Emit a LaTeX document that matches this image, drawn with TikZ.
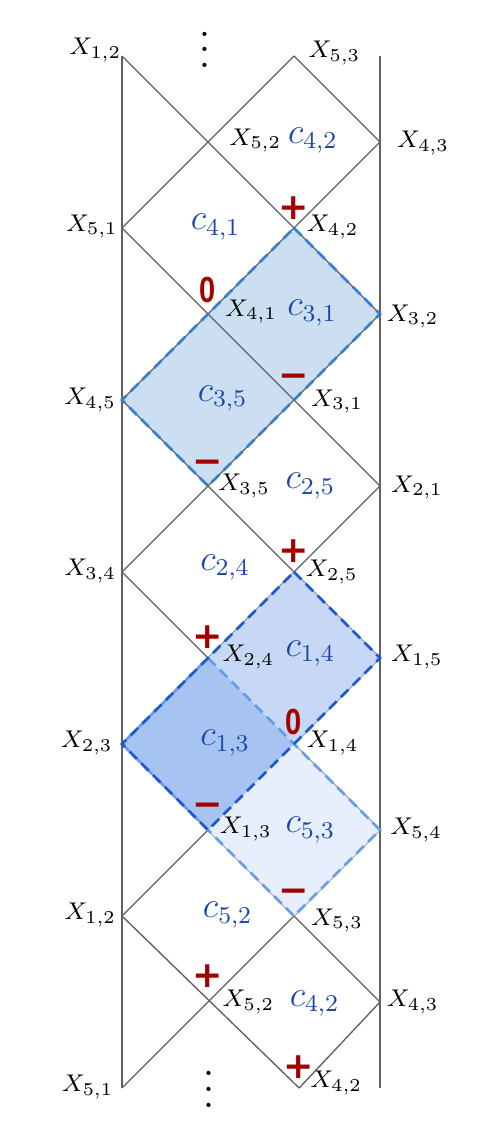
\documentclass[tikz,border=0pt]{standalone}
\usepackage{fontspec}
\usepackage{amsmath}
\usetikzlibrary{calc,positioning}
\newfontfamily\signfont{DejaVu Sans}
\newfontfamily\zerofont{Liberation Sans}
\definecolor{cblue}{RGB}{28,72,172}
\definecolor{sred}{RGB}{165,0,0}
\definecolor{paleA}{RGB}{204,223,242}
\definecolor{edgeA}{RGB}{55,125,205}
\definecolor{paleB}{RGB}{198,216,245}
\definecolor{edgeB}{RGB}{25,88,212}
\definecolor{paleC}{RGB}{231,239,252}
\definecolor{edgeC}{RGB}{100,155,234}
\definecolor{paleBC}{RGB}{166,195,242}

\begin{document}
\begin{tikzpicture}[lat/.style={draw=black!62, line width=0.45pt},
  border/.style={line width=0.9pt, dash pattern=on 3.5pt off 2pt},
  xl/.style={font=\footnotesize, inner sep=1pt},
  cl/.style={font=\large, text=cblue, inner sep=1pt},
  sgn/.style={font=\signfont\bfseries\fontsize{12}{12}\selectfont, text=sred, inner sep=0pt},
  zero/.style={font=\zerofont\bfseries\fontsize{12}{12}\selectfont, text=sred, inner sep=0pt, xscale=0.8}]
\useasboundingbox (-1.4186,0.6512) rectangle (4.372,-12.6744);

% lattice points
\foreach \i in {0,...,3}
  \foreach \r in {0,...,12}
    \coordinate (v-\i-\r) at (\i,-\r);
\coordinate (v-2-12) at (2.06,-12);

% upper shaded strip
\fill[paleA] (v-2-2) -- (v-3-3) -- (v-1-5) -- (v-0-4) -- cycle;

% lattice
\draw[lat] (v-0-0) -- (v-0-12);
\draw[lat] (v-3-0) -- (v-3-12);
\foreach \a/\b in {2-0/3-1, 0-0/3-3, 0-2/3-5, 0-4/3-7, 0-6/3-9, 0-8/3-11, 0-10/2-12,
                   2-0/0-2, 3-1/0-4, 3-3/0-6, 3-5/0-8, 3-7/0-10, 3-9/0-12, 3-11/2-12}
  \draw[lat] (v-\a) -- (v-\b);

% lower shaded strips
\fill[paleB] (v-2-6) -- (v-3-7) -- (v-1-9) -- (v-0-8) -- cycle;
\fill[paleC] (v-2-8) -- (v-3-9) -- (v-2-10) -- (v-1-9) -- cycle;
\fill[paleBC] (v-1-7) -- (v-2-8) -- (v-1-9) -- (v-0-8) -- cycle;

\draw[border, edgeA] (v-2-2) -- (v-3-3) -- (v-1-5) -- (v-0-4) -- cycle;
\draw[border, edgeC] (v-1-7) -- (v-3-9) -- (v-2-10) -- (v-0-8) -- cycle;
\draw[border, edgeB] (v-2-6) -- (v-3-7) -- (v-1-9) -- (v-0-8) -- cycle;

% vertex labels
\node[xl] (l-0-0) at (-0.31,0.07) {$X_{1,2}$};
\node[xl] (l-2-0) at (2.47,0.035) {$X_{5,3}$};
\node[xl] (l-1-1) at (1.55,-0.98) {$X_{5,2}$};
\node[xl] (l-3-1) at (3.5,-1.01) {$X_{4,3}$};
\node[xl] (l-0-2) at (-0.35,-1.98) {$X_{5,1}$};
\node[xl] (l-2-2) at (2.45,-1.99) {$X_{4,2}$};
\node[xl] (l-1-3) at (1.5,-2.97) {$X_{4,1}$};
\node[xl] (l-3-3) at (3.38,-3.03) {$X_{3,2}$};
\node[xl] (l-0-4) at (-0.37,-4.0) {$X_{4,5}$};
\node[xl] (l-2-4) at (2.5,-4.02) {$X_{3,1}$};
\node[xl] (l-1-5) at (1.42,-5.0) {$X_{3,5}$};
\node[xl] (l-3-5) at (3.43,-5.02) {$X_{2,1}$};
\node[xl] (l-0-6) at (-0.37,-5.99) {$X_{3,4}$};
\node[xl] (l-2-6) at (2.44,-6.0) {$X_{2,5}$};
\node[xl] (l-1-7) at (1.47,-6.99) {$X_{2,4}$};
\node[xl] (l-3-7) at (3.43,-6.99) {$X_{1,5}$};
\node[xl] (l-0-8) at (-0.41,-7.99) {$X_{2,3}$};
\node[xl] (l-2-8) at (2.45,-7.99) {$X_{1,4}$};
\node[xl] (l-1-9) at (1.44,-8.99) {$X_{1,3}$};
\node[xl] (l-3-9) at (3.42,-9.0) {$X_{5,4}$};
\node[xl] (l-0-10) at (-0.37,-9.99) {$X_{1,2}$};
\node[xl] (l-2-10) at (2.5,-10.05) {$X_{5,3}$};
\node[xl] (l-1-11) at (1.47,-11.0) {$X_{5,2}$};
\node[xl] (l-3-11) at (3.38,-11.0) {$X_{4,3}$};
\node[xl] (l-0-12) at (-0.4,-11.99) {$X_{5,1}$};
\node[xl] (l-2-12) at (2.49,-11.94) {$X_{4,2}$};

% cell labels
\node[cl] (c-2-1) at (2.22,-0.98) {$c_{4,2}$};
\node[cl] (c-1-2) at (1.09,-1.99) {$c_{4,1}$};
\node[cl] (c-2-3) at (2.21,-2.99) {$c_{3,1}$};
\node[cl] (c-1-4) at (1.17,-3.98) {$c_{3,5}$};
\node[cl] (c-2-5) at (2.19,-5.0) {$c_{2,5}$};
\node[cl] (c-1-6) at (1.2,-5.95) {$c_{2,4}$};
\node[cl] (c-2-7) at (2.19,-6.95) {$c_{1,4}$};
\node[cl] (c-1-8) at (1.2,-7.99) {$c_{1,3}$};
\node[cl] (c-2-9) at (2.19,-9.0) {$c_{5,3}$};
\node[cl] (c-1-10) at (1.23,-9.99) {$c_{5,2}$};
\node[cl] (c-2-11) at (2.24,-11.02) {$c_{4,2}$};

% signs
\node[sgn] (s-2-2) at (2.0,-1.77) {+};
\node[zero] (s-1-3) at (1.0,-2.72) {0};
\node[sgn] (s-2-4) at (2.0,-3.78) {−};
\node[sgn] (s-1-5) at (1.0,-4.78) {−};
\node[sgn] (s-2-6) at (2.0,-5.76) {+};
\node[sgn] (s-1-7) at (1.0,-6.76) {+};
\node[zero] (s-2-8) at (2.0,-7.74) {0};
\node[sgn] (s-1-9) at (1.0,-8.76) {−};
\node[sgn] (s-2-10) at (2.0,-9.76) {−};
\node[sgn] (s-1-11) at (1.0,-10.7) {+};
\node[sgn] (s-2-12) at (2.06,-11.76) {+};

% continuation dots
\node[scale=1.3] (d-top) at (0.97,0.21) {$\vdots$};
\node[scale=1.3] (d-bot) at (1.01,-11.88) {$\vdots$};
\end{tikzpicture}
\end{document}
